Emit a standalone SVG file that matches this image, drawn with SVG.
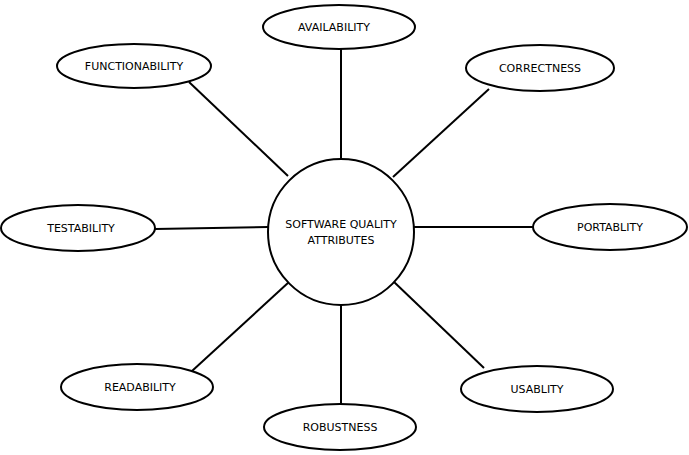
<svg xmlns="http://www.w3.org/2000/svg" width="689" height="455" viewBox="0 0 689 455">
<style>
.n{fill:#fff;stroke:#000;stroke-width:2}
.l{stroke:#000;stroke-width:2}
text{font-family:"DejaVu Sans",Verdana,sans-serif;font-size:11px;fill:#000;text-anchor:middle}
</style>
<rect width="689" height="455" fill="#fff"/>
<g id="connectors">
<line class="l" x1="341" y1="49" x2="341" y2="159"/>
<line class="l" x1="189" y1="82" x2="288" y2="176"/>
<line class="l" x1="489" y1="89" x2="393" y2="177"/>
<line class="l" x1="155" y1="229" x2="268" y2="227"/>
<line class="l" x1="414" y1="227" x2="533" y2="227"/>
<line class="l" x1="192" y1="371" x2="289" y2="282"/>
<line class="l" x1="341" y1="305" x2="341" y2="404"/>
<line class="l" x1="484" y1="368" x2="393" y2="281"/>
</g>
<g id="center"><circle class="n" cx="341" cy="232" r="73"/><text x="341" y="228">SOFTWARE QUALITY</text><text x="341" y="244">ATTRIBUTES</text></g>
<g id="availability"><ellipse class="n" cx="339" cy="27" rx="76" ry="22"/><text x="334" y="31">AVAILABILITY</text></g>
<g id="functionability"><ellipse class="n" cx="134" cy="66" rx="77" ry="22"/><text x="134" y="70">FUNCTIONABILITY</text></g>
<g id="correctness"><ellipse class="n" cx="540" cy="68" rx="74" ry="23"/><text x="540" y="72">CORRECTNESS</text></g>
<g id="testability"><ellipse class="n" cx="78" cy="228" rx="77" ry="23"/><text x="81" y="232">TESTABILITY</text></g>
<g id="portablity"><ellipse class="n" cx="610" cy="227" rx="77" ry="23"/><text x="610" y="231">PORTABLITY</text></g>
<g id="readability"><ellipse class="n" cx="137" cy="387" rx="76" ry="23"/><text x="140" y="391">READABILITY</text></g>
<g id="robustness"><ellipse class="n" cx="340" cy="427" rx="76" ry="23"/><text x="340" y="431">ROBUSTNESS</text></g>
<g id="usablity"><ellipse class="n" cx="537" cy="389" rx="76" ry="23"/><text x="537" y="393">USABLITY</text></g>
</svg>
